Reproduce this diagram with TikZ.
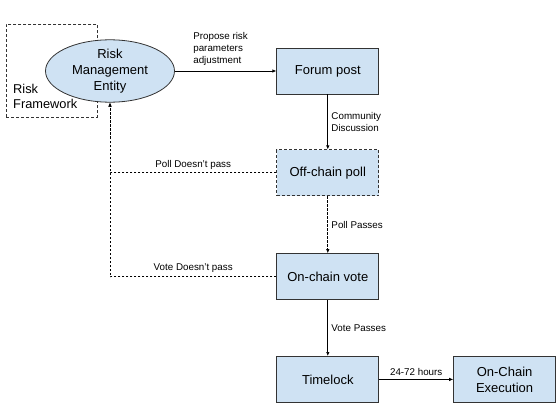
\documentclass[tikz,border=0pt]{standalone}
\usepackage{fontspec}
\setmainfont{Liberation Sans}
\usetikzlibrary{positioning,arrows.meta,shapes.geometric}
\definecolor{boxblue}{HTML}{CFE2F3}
\definecolor{edgegray}{HTML}{333333}

\begin{document}
\begin{tikzpicture}[
  x=1pt, y=1pt,
  node distance=55pt and 74pt,
  box/.style={draw=edgegray, fill=boxblue, line width=0.8pt, align=center, minimum width=102pt, minimum height=46pt, inner sep=2pt, font=\fontsize{13}{16}\selectfont},
  dbox/.style={box, dash pattern=on 3pt off 2pt},
  ent/.style={box, ellipse, minimum width=129pt, minimum height=60pt, inner sep=0pt},
  lbl/.style={font=\fontsize{9.8}{12}\selectfont, align=left},
  arr/.style={-{Latex[length=4pt,width=3.5pt]}, line width=0.7pt},
  darr/.style={arr, dash pattern=on 2.5pt off 1.5pt}
]
\useasboundingbox (0,0) rectangle (560,-420);

% --- Risk framework ---
\node[draw=edgegray, line width=0.8pt, dash pattern=on 3pt off 2pt, minimum width=91pt, minimum height=93pt, anchor=north west, inner sep=0pt] (rf) at (6,-24) {};
\node[font=\fontsize{12.8}{14.5}\selectfont, align=left, anchor=south west, inner xsep=7pt, inner ysep=9pt] (rftxt) at (rf.south west) {Risk\\Framework};

% --- Proposal flow ---
\node[ent] (rme) at (110,-71) {Risk\\Management\\Entity};
\node[box, right=101.5pt of rme] (forum) {Forum post};
\node[dbox, below=55pt of forum] (poll) {Off-chain poll};
\node[box, below=57pt of poll] (vote) {On-chain vote};
\node[box, below=56pt of vote] (tlock) {Timelock};
\node[box, right=74pt of tlock] (exec) {On-Chain\\Execution};

\draw[arr] (rme) -- node[lbl, above=2pt, pos=0.45] {Propose risk\\parameters\\adjustment} (forum);
\draw[arr] (forum) -- node[lbl, right] {Community\\Discussion} (poll);
\draw[darr] (poll) -- node[lbl, right] {Poll Passes} (vote);
\draw[arr] (vote) -- node[lbl, right] {Vote Passes} (tlock);
\draw[arr] (tlock) -- node[lbl, above] {24-72 hours} (exec);

% --- Failed votes go back ---
\draw[darr] (poll.west) -| node[lbl, above, pos=0.25] {Poll Doesn't pass} (rme.south);
\draw[darr] (vote.west) -| node[lbl, above, pos=0.25] {Vote Doesn't pass} (rme.south);

\end{tikzpicture}
\end{document}
